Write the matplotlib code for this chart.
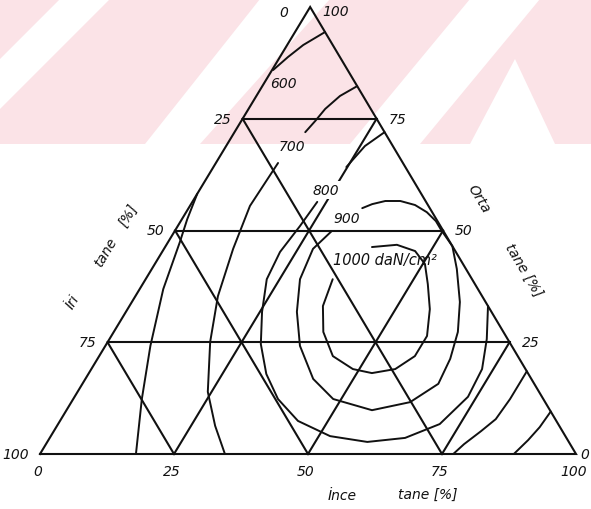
import matplotlib.pyplot as plt
from matplotlib.patches import Polygon

W, H = 591, 510
APEX = 0.504   # horizontal position of the Orta corner along the base

levels = [25, 50, 75]
ticks = [0, 25, 50, 75, 100]

# strength contours, (İnce %, Orta %)
c600a_ince = [0.2, 1.5, 3.0, 5.6]
c600a_orta = [85.9, 88.8, 91.5, 94.4]

c600b_ince = [0.0, 1.0, 2.2, 4.4, 8.4, 12.8, 17.9]
c600b_orta = [58.2, 52.5, 47.4, 36.9, 24.2, 12.3, 0.0]

c700a_ince = [17.7, 15.6, 14.3, 13.8, 13.2]
c700a_orta = [82.3, 80.1, 77.2, 74.5, 72.0]

c700b_ince = [11.6, 11.2, 12.9, 15.4, 19.1, 24.3, 29.5, 34.5]
c700b_orta = [65.1, 55.5, 45.9, 35.3, 25.1, 13.9, 6.3, 0.0]

c800a_ince = [28.0, 25.9, 24.8]
c800a_orta = [72.0, 68.9, 64.2]

c800b_ince = [23.3, 22.8, 22.0, 22.6, 25.4, 28.8, 33.2, 38.2, 44.4, 52.1,
              59.7, 66.3, 71.2, 73.4, 72.9, 70.4, 66.9]
c800b_orta = [56.4, 51.0, 45.2, 39.1, 31.8, 24.6, 17.9, 12.3, 7.4, 4.0,
              2.7, 3.6, 6.7, 12.8, 19.0, 25.7, 33.1]

c900_ince = [29.3, 27.8, 28.8, 31.9, 36.3, 42.5, 48.5, 57.0, 63.2, 66.4,
             65.8, 64.2, 61.2, 56.9, 53.5, 49.6, 47.6, 44.9, 41.9, 38.7,
             35.9, 33.8, 32.4]
c900_orta = [49.9, 45.9, 39.1, 31.8, 24.2, 16.8, 12.3, 9.8, 11.6, 15.7,
             21.3, 27.3, 34.0, 41.4, 46.5, 50.1, 52.1, 54.1, 55.7, 56.6,
             56.6, 55.9, 55.0]

c1000_ince = [38.6, 43.0, 47.1, 50.4, 53.2, 56.4, 58.9, 58.9, 56.7, 52.8,
              48.8, 43.6, 39.1, 36.1, 34.9]
c1000_orta = [46.3, 46.8, 45.4, 42.5, 38.0, 32.4, 26.4, 21.9, 19.0, 18.1,
              19.0, 21.9, 27.3, 33.1, 39.1]

r1_ince = [81.5, 81.5, 81.1, 79.7, 78.0, 77.1]
r1_orta = [18.5, 12.3, 7.8, 5.1, 2.2, 0.0]

r2_ince = [90.5, 90.2, 89.5, 88.4]
r2_orta = [9.5, 6.0, 3.1, 0.0]

curves = [(c600a_ince, c600a_orta), (c600b_ince, c600b_orta),
          (c700a_ince, c700a_orta), (c700b_ince, c700b_orta),
          (c800a_ince, c800a_orta), (c800b_ince, c800b_orta),
          (c900_ince, c900_orta), (c1000_ince, c1000_orta),
          (r1_ince, r1_orta), (r2_ince, r2_orta)]


def tern(ince, orta):
    xs = [i + o * APEX for i, o in zip(ince, orta)]
    return xs, list(orta)


def fx(x):
    return x / W


def fy(y):
    return 1 - y / H


fig = plt.figure(figsize=(W / 100, H / 100), dpi=100)
fig.patch.set_facecolor('white')

# pink watermark stripes of the scan (behind everything)
pink = '#fbe3e7'
bands = [[(0, 0), (60, 0), (0, 60)],
         [(110, 0), (260, 0), (145, 145), (0, 145), (0, 110)],
         [(330, 0), (470, 0), (350, 145), (200, 145)],
         [(540, 0), (591, 0), (591, 145), (555, 145), (515, 60), (470, 145), (420, 145)]]
for b in bands:
    fig.patches.append(Polygon([(fx(x), fy(y)) for x, y in b], closed=True,
                               transform=fig.transFigure, facecolor=pink,
                               edgecolor='none', zorder=-5))

ax = fig.add_axes([40 / W, 55 / H, 536 / W, 447 / H])
ax.set_xlim(0, 100)
ax.set_ylim(0, 100)
ax.axis('off')
ax.patch.set_visible(False)

lw = 1.5
col = '#111111'

# outline
ox, oy = tern([0, 100, 0, 0], [0, 0, 100, 0])
ax.plot(ox, oy, color=col, lw=lw, solid_joinstyle='miter', clip_on=False)

# 25 % grid
for L in levels:
    gx, gy = tern([0, 100 - L], [L, L])
    ax.plot(gx, gy, color=col, lw=lw, clip_on=False)
    gx, gy = tern([0, 100 - L], [100 - L, 0])
    ax.plot(gx, gy, color=col, lw=lw, clip_on=False)
    gx, gy = tern([L, L], [0, 100 - L])
    ax.plot(gx, gy, color=col, lw=lw, clip_on=False)

for ci, co in curves:
    cx, cy = tern(ci, co)
    ax.plot(cx, cy, color=col, lw=1.4, clip_on=False, solid_capstyle='round',
            solid_joinstyle='round')

tk = dict(fontsize=10, style='italic', color=col)
# left axis (İri), right axis (Orta), bottom axis (İnce)
for t in ticks:
    x, y = tern([0], [100 - t])
    dx, dy = (-22, -5) if t == 0 else (-11, 0)
    ax.annotate(str(t), (x[0], y[0]), xytext=(dx, dy), textcoords='offset pixels',
                ha='right', va='center', **tk)
    x, y = tern([100 - t], [t])
    dx = 4 if t == 0 else 12
    ax.annotate(str(t), (x[0], y[0]), xytext=(dx, -4 if t == 100 else 0),
                textcoords='offset pixels', ha='left', va='center', **tk)
    x, y = tern([t], [0])
    ax.annotate(str(t), (x[0], y[0]), xytext=(-2, -17), textcoords='offset pixels',
                ha='center', va='center', **tk)

ttl = dict(fontsize=10, style='italic', color=col, ha='center', va='center')
fig.text(fx(342), fy(496), 'İnce', **ttl)
fig.text(fx(428), fy(495), 'tane [%]', **ttl)
fig.text(fx(73), fy(302), 'İri', rotation=59, **ttl)
fig.text(fx(106), fy(253), 'tane', rotation=59, **ttl)
fig.text(fx(128), fy(216), '[%]', rotation=59, **ttl)
fig.text(fx(479), fy(199), 'Orta', rotation=-59, **ttl)
fig.text(fx(524), fy(270), 'tane [%]', rotation=-59, **ttl)

lab = dict(fontsize=10, style='italic', color=col, ha='center', va='center')
fig.text(fx(283), fy(84), '600', **lab)
fig.text(fx(292), fy(147), '700', **lab)
fig.text(fx(326), fy(191), '800', bbox=dict(facecolor='white', edgecolor='none', pad=1.5), **lab)
fig.text(fx(347), fy(219), '900', **lab)
fig.text(fx(385), fy(261), '1000 daN/cm²', fontsize=10.5, style='italic', color=col,
         ha='center', va='center')

fig.savefig('out.png', dpi=100)
